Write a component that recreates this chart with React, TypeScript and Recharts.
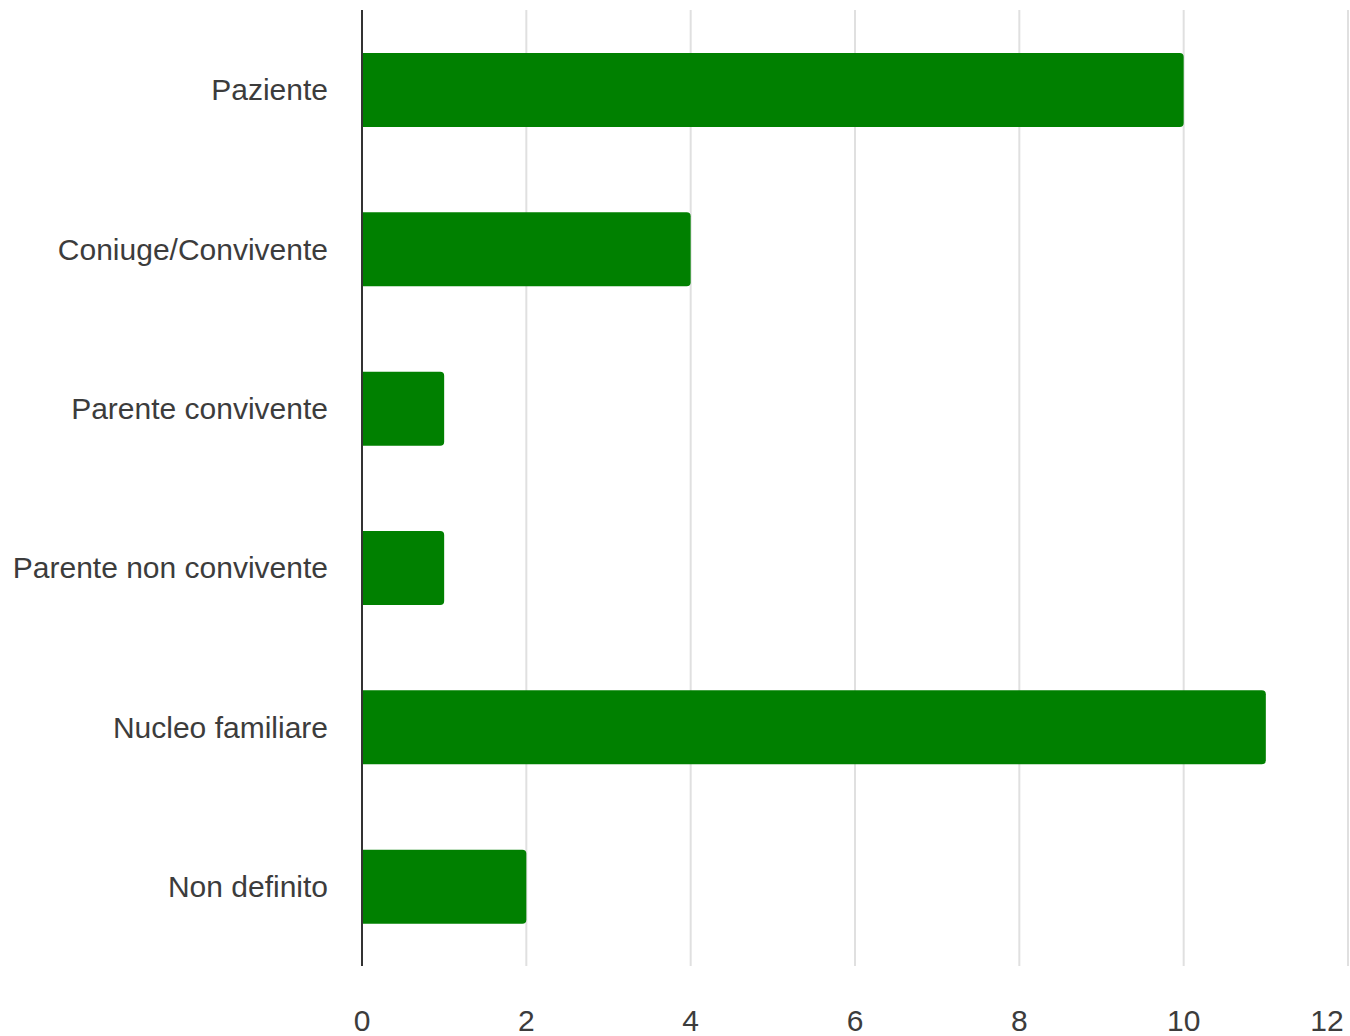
import React from "react";
import { BarChart, Bar, XAxis, YAxis, CartesianGrid } from "recharts";

const categories = [
  "Paziente",
  "Coniuge/Convivente",
  "Parente convivente",
  "Parente non convivente",
  "Nucleo familiare",
  "Non definito",
];
const counts = [10, 4, 1, 1, 11, 2];
const xTicks = [0, 2, 4, 6, 8, 10, 12];

const data = categories.map((name, i) => ({ name, value: counts[i] }));

const FONT = "'Liberation Sans', Arial, sans-serif";
const MAX_TICK = xTicks[xTicks.length - 1];

const XTick = (props: any) => {
  const { x, y, payload } = props;
  const isLast = payload.value === MAX_TICK;
  return (
    <text
      x={isLast ? x - 21 : x}
      y={y}
      dy="0.71em"
      textAnchor="middle"
      fill="#3c3c3c"
      fontSize={30}
      fontFamily={FONT}
    >
      {payload.value}
    </text>
  );
};

export default function App() {
  return (
    <div style={{ position: "absolute", left: 0, top: 0, background: "#fff" }}>
      <BarChart
        width={1350}
        height={1036}
        data={data}
        layout="vertical"
        margin={{ top: 10, right: 2, bottom: 0, left: 0 }}
        barCategoryGap={0}
      >
        <CartesianGrid horizontal={false} stroke="#e0e0e0" strokeWidth={2} />
        <XAxis
          type="number"
          domain={[0, 12]}
          ticks={xTicks}
          interval={0}
          height={70}
          axisLine={false}
          tickLine={false}
          tickMargin={38}
          tick={<XTick />}
        />
        <YAxis
          type="category"
          dataKey="name"
          width={362}
          axisLine={{ stroke: "#333", strokeWidth: 2 }}
          tickLine={false}
          tickMargin={28}
          interval={0}
          tick={{ fill: "#3c3c3c", fontSize: 30, fontFamily: FONT }}
        />
        <Bar
          dataKey="value"
          fill="#008000"
          barSize={74}
          radius={[0, 4, 4, 0]}
          isAnimationActive={false}
        />
      </BarChart>
    </div>
  );
}
